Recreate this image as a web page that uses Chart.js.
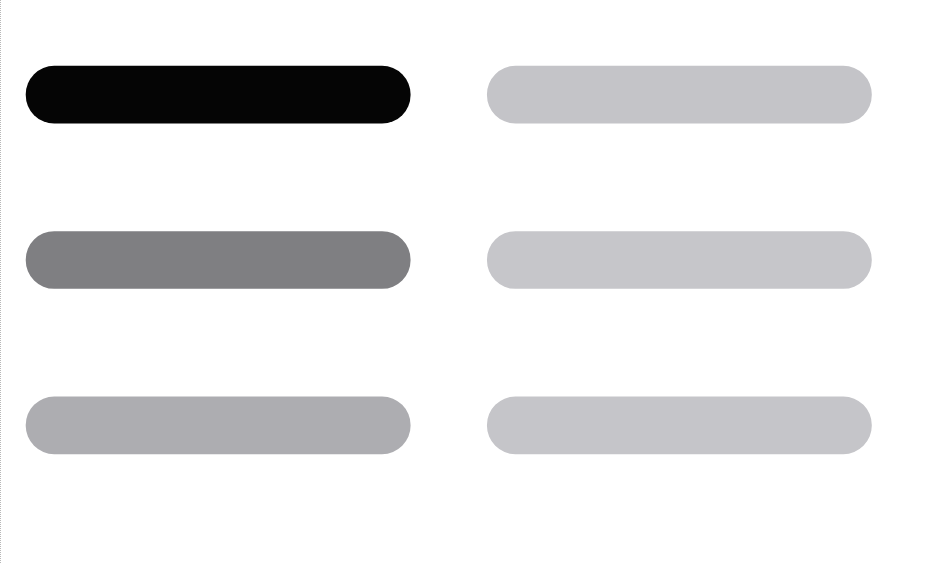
<!DOCTYPE html>
<html>
<head>
<meta charset="utf-8">
<script src="https://cdn.jsdelivr.net/npm/chart.js@4/dist/chart.umd.min.js"></script>
<style>
  html, body { margin: 0; padding: 0; background: #fff; }
  #wrap { position: relative; width: 929px; height: 563px; box-sizing: border-box; border-left: 1px dotted #b8b8b8; }
</style>
</head>
<body>
<div id="wrap"><canvas id="pills" width="928" height="563"></canvas></div>
<script>
'use strict'

// rows of the grid, top to bottom
var rows = ['row 1', 'row 2', 'row 3'];

// left column bars (start / end on a 0-100 scale)
var leftStart = [2.7, 2.7, 2.7];
var leftEnd = [44.1, 44.1, 44.1];

// right column bars
var rightStart = [52.4, 52.4, 52.4];
var rightEnd = [93.8, 93.8, 93.8];

var leftColors = ['#050505', '#7f7f82', '#adadb1'];
var rightColors = ['#c4c4c8', '#c6c6ca', '#c5c5c9'];

function ranges(a, b) {
  return a.map(function (v, i) { return [v, b[i]]; });
}

function renderChart() {
  var ctx = document.getElementById('pills').getContext('2d');
  var bar = {
    grouped: false,
    barThickness: 57,
    borderRadius: 29,
    borderSkipped: false,
    borderWidth: 0
  };
  new Chart(ctx, {
    type: 'bar',
    data: {
      labels: rows,
      datasets: [
        Object.assign({ label: 'left', data: ranges(leftStart, leftEnd), backgroundColor: leftColors }, bar),
        Object.assign({ label: 'right', data: ranges(rightStart, rightEnd), backgroundColor: rightColors }, bar)
      ]
    },
    options: {
      indexAxis: 'y',
      responsive: false,
      animation: false,
      layout: { padding: { top: 12, bottom: 55, left: 0, right: 0 } },
      plugins: { legend: { display: false }, tooltip: { enabled: false } },
      scales: {
        x: { type: 'linear', min: 0, max: 100, display: false },
        y: { display: false }
      }
    }
  });
}

renderChart();
</script>
</body>
</html>
